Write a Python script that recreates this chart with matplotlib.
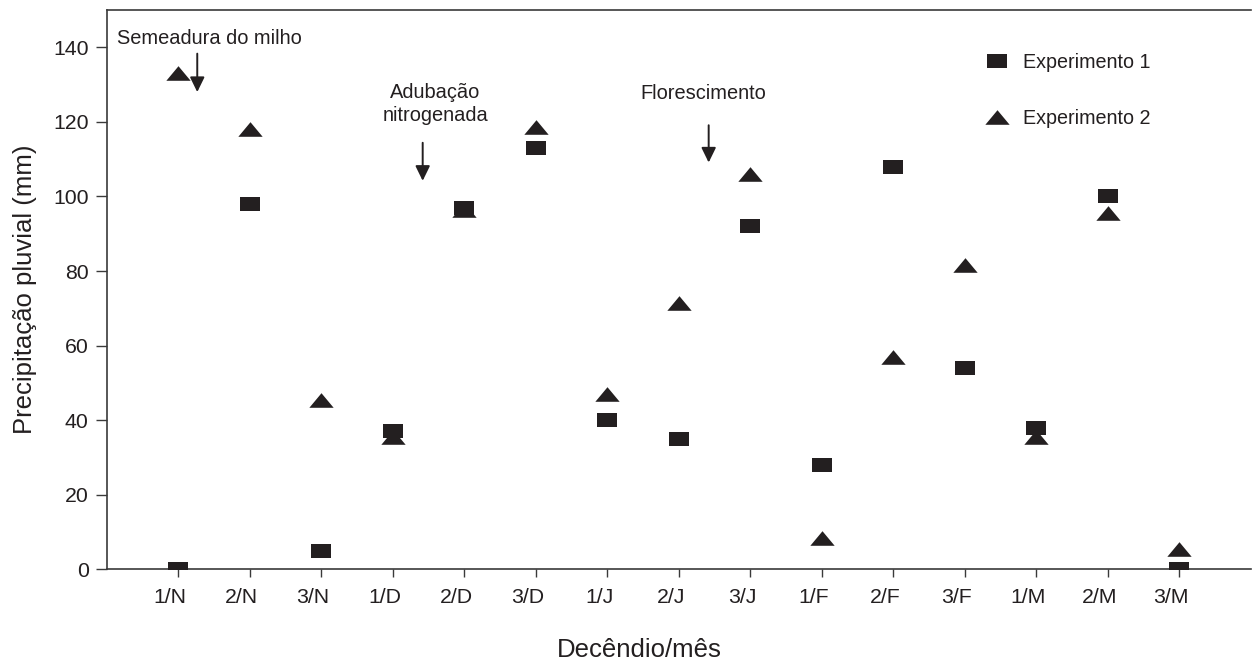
import matplotlib
matplotlib.use("Agg")
import matplotlib.pyplot as plt
import matplotlib.transforms as mtransforms
from matplotlib.lines import Line2D

plt.rcParams['font.family'] = ['Liberation Sans', 'DejaVu Sans']

# ---- data ----
categories = ["1/N", "2/N", "3/N", "1/D", "2/D", "3/D", "1/J", "2/J", "3/J",
              "1/F", "2/F", "3/F", "1/M", "2/M", "3/M"]
exp1 = [0, 98, 5, 37, 97, 113, 40, 35, 92, 28, 108, 54, 38, 100, 0]
exp2 = [133, 118, 45.5, 35.5, 96.5, 118.5, 47, 71.5, 106, 8.4, 57, 81.5, 35.5, 95.6, 5.5]
yticks = [0, 20, 40, 60, 80, 100, 120, 140]

# annotation events: (label, x position, last-line baseline y, arrow top y, arrow tip y)
events = [
    ("Semeadura do milho", 0.43, 140.8, 138.3, 128.0),
    ("Adubação\nnitrogenada", 3.60, 120.2, 114.4, 104.2),
    ("Florescimento", 7.35, 126.2, 119.1, 109.1),
]
arrow_x = [0.267, 3.42, 7.42]

ink = '#231f20'
axc = '#3a3a3a'

fig = plt.figure(figsize=(12.52, 6.60), dpi=100)
ax = fig.add_axes([0.0852, 0.1374, 0.9137, 0.8474])

rect = [(-1, -0.7), (1, -0.7), (1, 0.7), (-1, 0.7), (-1, -0.7)]
tri = [(0, 0.6), (1, -0.6), (-1, -0.6), (0, 0.6)]

x = list(range(len(categories)))
ax.plot(x, exp2, linestyle='none', marker=tri, markersize=17.5,
        color=ink, markeredgewidth=0, label='Experimento 2', zorder=3)
ax.plot(x, exp1, linestyle='none', marker=rect, markersize=14.4,
        color=ink, markeredgewidth=0, label='Experimento 1', zorder=4)

ax.set_xlim(-1, 15)
ax.set_ylim(0, 150)
ax.set_xticks(x)
ax.set_xticklabels(categories)
ax.set_yticks(yticks)

for s in ['left', 'bottom', 'top']:
    ax.spines[s].set_color(axc)
    ax.spines[s].set_linewidth(1.2)
ax.spines['right'].set_visible(False)

ax.tick_params(axis='x', direction='out', length=5.8, width=1.0, color=axc,
               labelsize=15.3, pad=8, labelcolor=ink)
ax.tick_params(axis='y', direction='out', length=8, width=1.0, color=axc,
               labelsize=15.3, pad=5, labelcolor=ink)

offset = mtransforms.ScaledTranslation(-8 / 100, 0, fig.dpi_scale_trans)
for lbl in ax.get_xticklabels():
    lbl.set_transform(lbl.get_transform() + offset)

ax.set_ylabel("Precipitação pluvial (mm)", fontsize=18.5, color=ink)
ax.set_xlabel("Decêndio/mês", fontsize=18.5, color=ink)
ax.yaxis.set_label_coords(-0.061, 0.5)
ax.xaxis.set_label_coords(0.4657, -0.1227)

for (label, tx, ty, ay0, ay1), axx in zip(events, arrow_x):
    ax.text(tx, ty, label, ha='center', va='baseline', fontsize=14.4,
            color=ink, linespacing=1.25)
    ax.annotate('', xy=(axx, ay1), xytext=(axx, ay0),
                arrowprops=dict(arrowstyle='-|>,head_length=0.45,head_width=0.22',
                                mutation_scale=20, lw=1.4, color=ink,
                                shrinkA=0, shrinkB=0))

handles = [Line2D([], [], linestyle='none', marker=rect, markersize=14.4,
                  color=ink, markeredgewidth=0),
           Line2D([], [], linestyle='none', marker=tri, markersize=17.5,
                  color=ink, markeredgewidth=0)]
ax.legend(handles, ["Experimento 1", "Experimento 2"], loc='upper left',
          bbox_to_anchor=(0.7695, 0.9231), frameon=False, fontsize=14.2,
          handlelength=1.0, handletextpad=0.82, labelspacing=1.85,
          borderpad=0, borderaxespad=0, labelcolor=ink)

fig.savefig("out.png", dpi=100)
